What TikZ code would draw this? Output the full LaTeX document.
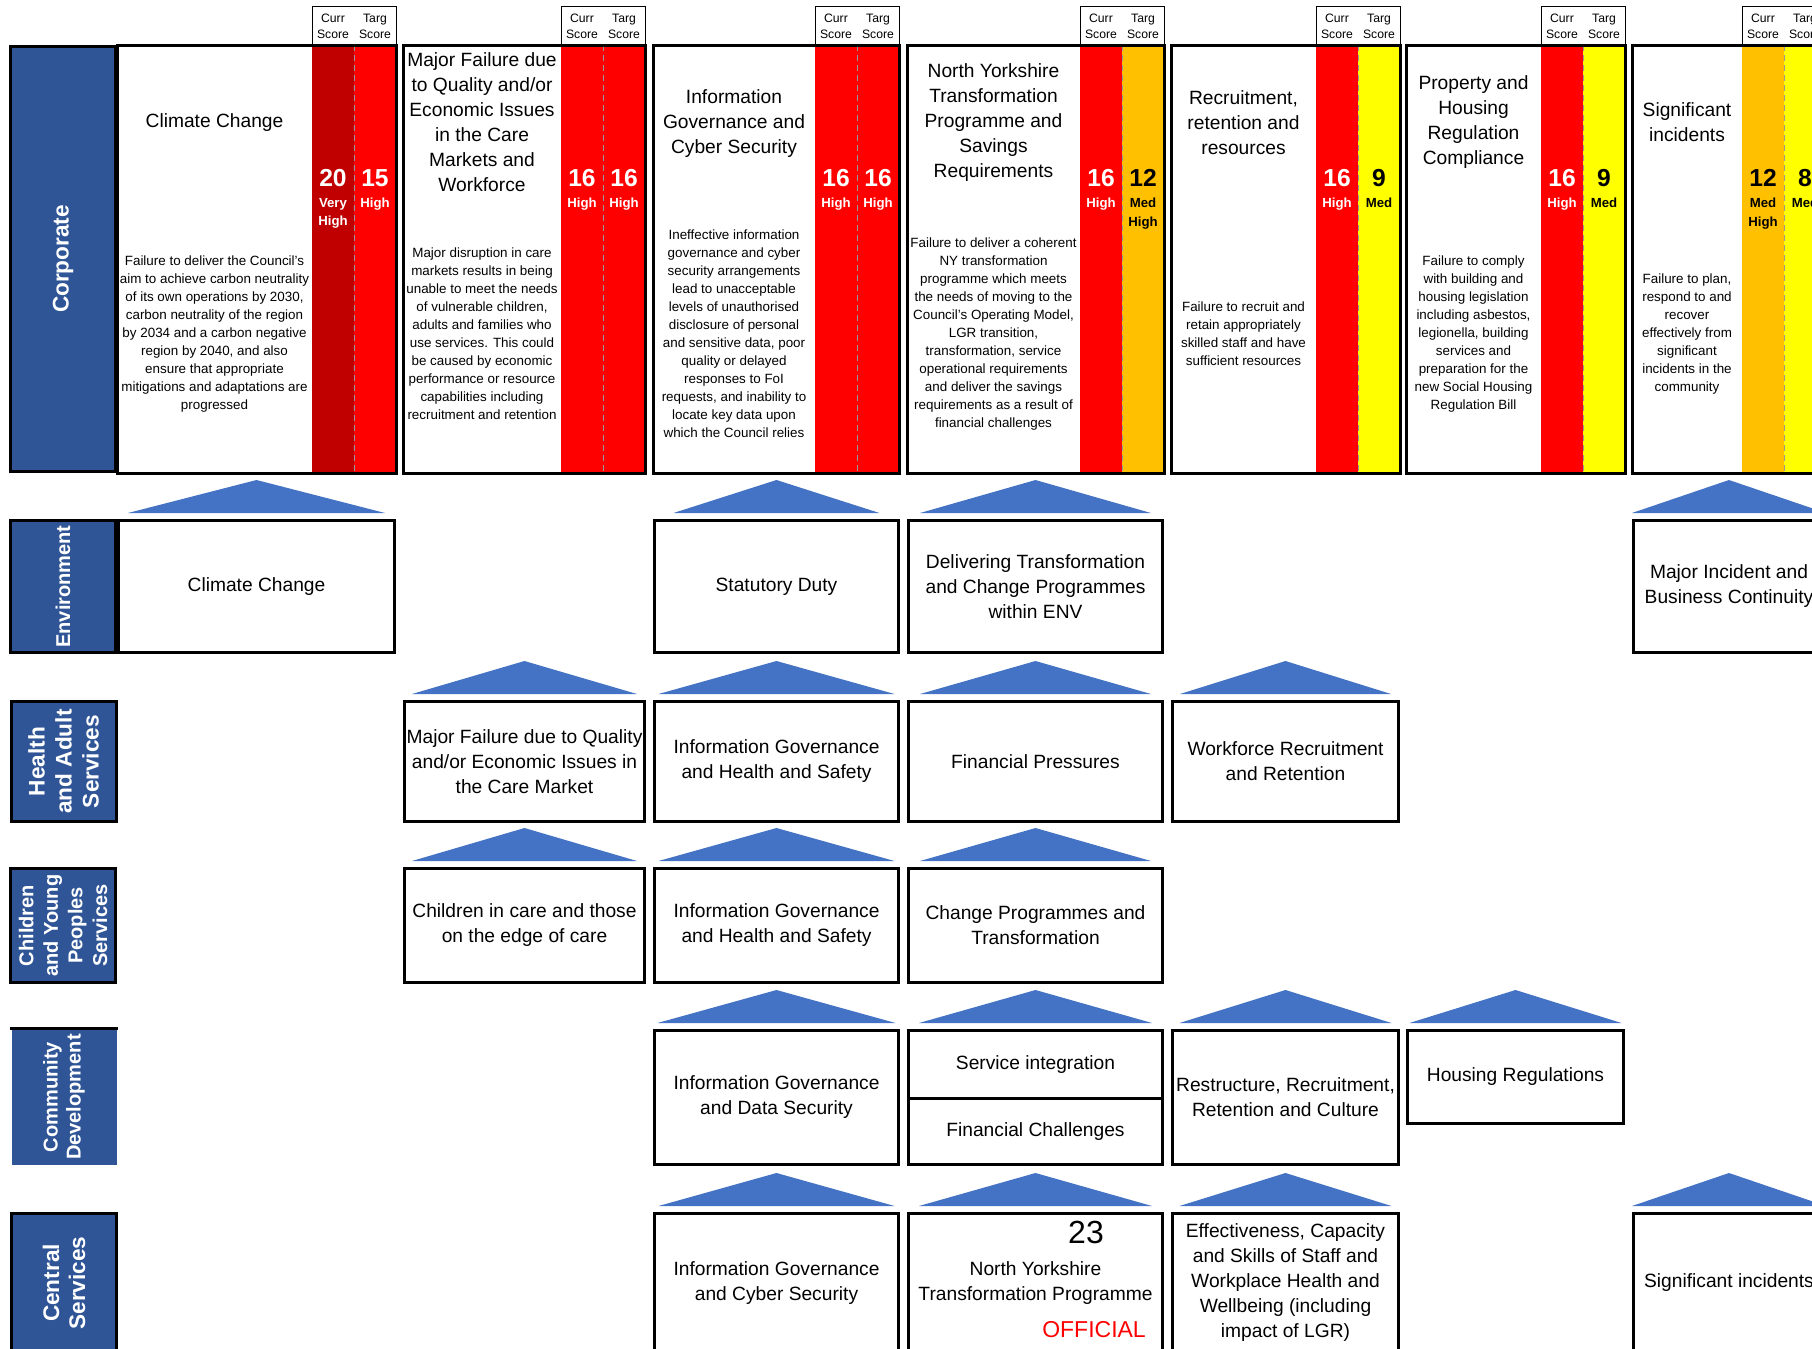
\documentclass[tikz,border=0pt]{standalone}
\usepackage{fontspec}
\setmainfont{Liberation Sans}
\definecolor{lblue}{HTML}{2F5597}
\definecolor{triblue}{HTML}{4472C4}
\definecolor{riskVH}{HTML}{C00000}
\definecolor{riskH}{HTML}{FF0000}
\definecolor{riskMH}{HTML}{FFC000}
\definecolor{riskM}{HTML}{FFFF00}
% flat arrow-like triangle sitting on top of a node
\newcommand{\uptri}[2]{\fill[tri] ([xshift=-#2*0.5pt,yshift=3pt]#1.north) -- ([yshift=19.5pt]#1.north) -- ([xshift=#2*0.5pt,yshift=3pt]#1.north) -- cycle;}

\begin{document}
\begin{tikzpicture}[
    x=0.5pt, y=-0.5pt,
    rowlbl/.style={draw=black, line width=1.5pt, fill=lblue, text=white, align=center, rotate=90, inner sep=0pt, minimum height=52.5pt},
    lowbox/.style={draw=black, line width=1.5pt, fill=white, align=center, inner sep=1pt, font=\fontsize{9.6}{12.5}\selectfont},
    ttl/.style={align=center, inner sep=0pt, font=\fontsize{9.6}{12.5}\selectfont},
    desc/.style={align=center, inner sep=0pt, font=\fontsize{6.7}{9}\selectfont},
    hdr/.style={align=center, inner sep=0pt, font=\fontsize{6.1}{7.8}\selectfont},
    num/.style={inner sep=0pt, font=\bfseries\fontsize{12.3}{14}\selectfont},
    lvl/.style={anchor=north, align=center, inner sep=0pt, font=\bfseries\fontsize{6.6}{9.2}\selectfont},
    corpline/.style={draw=black, line width=1.5pt},
    hdrline/.style={draw=black, line width=0.5pt},
    divline/.style={draw=gray!80, line width=0.4pt, densely dashed},
    tri/.style={fill=triblue},
    colA/.style={minimum width=138pt}, colB/.style={minimum width=120pt},
    colC/.style={minimum width=122pt}, colD/.style={minimum width=127pt},
    colE/.style={minimum width=113pt}, colF/.style={minimum width=108pt},
    colG/.style={minimum width=95.5pt},
    rEnv/.style={minimum height=66pt}, rHas/.style={minimum height=60pt},
    rCyp/.style={minimum height=57pt}, rComm/.style={minimum height=67pt},
    rCen/.style={minimum height=69.5pt}
]
\useasboundingbox (0,0) rectangle (1812,1349);
\clip (0,0) rectangle (1812,1349);

% Row labels
\node[rowlbl, minimum width=212.5pt, font=\bfseries\fontsize{11.3}{13.5}\selectfont] (corp) at (63,259) {Corporate};
\node[rowlbl, minimum width=66pt, font=\bfseries\fontsize{10}{12}\selectfont] (env) at (63,586.5) {Environment};
\node[rowlbl, minimum width=60pt, font=\bfseries\fontsize{11.3}{13.5}\selectfont] (has) at (63.5,761.5) {Health\\and Adult\\Services};
\node[rowlbl, minimum width=57pt, font=\bfseries\fontsize{10}{12.3}\selectfont] (cyp) at (63,925.5) {Children\\and Young\\Peoples\\Services};
\node[rowlbl, draw=none, minimum width=67.5pt, font=\bfseries\fontsize{10}{11.5}\selectfont] (comm) at (64,1097) {Community\\Development};
\draw[corpline] (comm.north east) -- (comm.south east);
\node[rowlbl, minimum width=69.5pt, font=\bfseries\fontsize{11.3}{13}\selectfont] (cen) at (64,1283) {Central\\Services};

% Corporate risk boxes: score columns, headers, outlines
\foreach \xo/\xs/\cc/\tc/\cn/\cl/\cf/\tn/\tl/\tf in {
    117/312/riskVH/riskH/20/{Very\\High}/white/15/High/white,
    403/561/riskH/riskH/16/High/white/16/High/white,
    653/815/riskH/riskH/16/High/white/16/High/white,
    907/1080/riskH/riskMH/16/High/white/12/{Med\\High}/black,
    1171/1316/riskH/riskM/16/High/white/9/Med/black,
    1406/1541/riskH/riskM/16/High/white/9/Med/black,
    1632/1742/riskMH/riskM/12/{Med\\High}/black/8/Med/black}
{
    \fill[\cc] (\xs,45) rectangle ({\xs+42},473);
    \fill[\tc] ({\xs+42},45) rectangle ({\xs+84},473);
    \draw[divline] ({\xs+42},45) -- ({\xs+42},473);
    \draw[corpline] (\xo,45) rectangle ({\xs+84},473);
    \draw[hdrline] (\xs,6) rectangle ({\xs+84},45);
    \node[hdr] (hc\xs) at ({\xs+21},26.5) {Curr\\Score};
    \node[hdr] (ht\xs) at ({\xs+63},26.5) {Targ\\Score};
    \node[num, text=\cf] (nc\xs) at ({\xs+21},178) {\cn};
    \node[lvl, text=\cf] (lc\xs) at ({\xs+21},198) {\cl};
    \node[num, text=\tf] (nt\xs) at ({\xs+63},178) {\tn};
    \node[lvl, text=\tf] (lt\xs) at ({\xs+63},198) {\tl};
}

% Corporate risk titles
\node[ttl] (t1) at (214.5,123) {Climate Change};
\node[ttl] (t2) at (482,122) {Major Failure due\\to Quality and/or\\Economic Issues\\in the Care\\Markets and\\Workforce};
\node[ttl] (t3) at (734,123.5) {Information\\Governance and\\Cyber Security};
\node[ttl] (t4) at (993.5,122.5) {North Yorkshire\\Transformation\\Programme and\\Savings\\Requirements};
\node[ttl] (t5) at (1243.5,123) {Recruitment,\\retention and\\resources};
\node[ttl] (t6) at (1473.5,122.5) {Property and\\Housing\\Regulation\\Compliance};
\node[ttl] (t7) at (1687,122) {Significant\\incidents};

% Corporate risk descriptions
\node[desc] (r1) at (214.5,334) {Failure to deliver the Council’s\\aim to achieve carbon neutrality\\of its own operations by 2030,\\carbon neutrality of the region\\by 2034 and a carbon negative\\region by 2040, and also\\ensure that appropriate\\mitigations and adaptations are\\progressed};
\node[desc] (r2) at (482,334) {Major disruption in care\\markets results in being\\unable to meet the needs\\of vulnerable children,\\adults and families who\\use services. This could\\be caused by economic\\performance or resource\\capabilities including\\recruitment and retention};
\node[desc] (r3) at (734,334) {Ineffective information\\governance and cyber\\security arrangements\\lead to unacceptable\\levels of unauthorised\\disclosure of personal\\and sensitive data, poor\\quality or delayed\\responses to FoI\\requests, and inability to\\locate key data upon\\which the Council relies};
\node[desc] (r4) at (993.5,334) {Failure to deliver a coherent\\NY transformation\\programme which meets\\the needs of moving to the\\Council’s Operating Model,\\LGR transition,\\transformation, service\\operational requirements\\and deliver the savings\\requirements as a result of\\financial challenges};
\node[desc] (r5) at (1243.5,334) {Failure to recruit and\\retain appropriately\\skilled staff and have\\sufficient resources};
\node[desc] (r6) at (1473.5,334) {Failure to comply\\with building and\\housing legislation\\including asbestos,\\legionella, building\\services and\\preparation for the\\new Social Housing\\Regulation Bill};
\node[desc] (r7) at (1687,334) {Failure to plan,\\respond to and\\recover\\effectively from\\significant\\incidents in the\\community};

% Environment
\node[lowbox, colA, rEnv] (envA) at (256.5,586.5) {Climate Change};
\node[lowbox, colC, rEnv] (envC) at (776.5,586.5) {Statutory Duty};
\node[lowbox, colD, rEnv] (envD) at (1035.5,586.5) {Delivering Transformation\\and Change Programmes\\within ENV};
\node[lowbox, colG, rEnv] (envG) at (1729,586.5) {Major Incident and\\Business Continuity};

% Health and Adult Services
\node[lowbox, colB, rHas] (hasB) at (524.5,761.5) {Major Failure due to Quality\\and/or Economic Issues in\\the Care Market};
\node[lowbox, colC, rHas] (hasC) at (776.5,761.5) {Information Governance\\and Health and Safety};
\node[lowbox, colD, rHas] (hasD) at (1035.5,761.5) {Financial Pressures};
\node[lowbox, colE, rHas] (hasE) at (1285.5,761.5) {Workforce Recruitment\\and Retention};

% Children and Young Peoples Services
\node[lowbox, colB, rCyp] (cypB) at (524.5,925.5) {Children in care and those\\on the edge of care};
\node[lowbox, colC, rCyp] (cypC) at (776.5,925.5) {Information Governance\\and Health and Safety};
\node[lowbox, colD, rCyp] (cypD) at (1035.5,925.5) {Change Programmes and\\Transformation};

% Community Development
\node[lowbox, colC, rComm] (comC) at (776.5,1097.5) {Information Governance\\and Data Security};
\node[lowbox, colD, minimum height=34pt] (comD) at (1035.5,1064.5) {Service integration};
\node[lowbox, colD, minimum height=33pt] (comD2) at (1035.5,1131.5) {Financial Challenges};
\node[lowbox, colE, rComm] (comE) at (1285.5,1097.5) {Restructure, Recruitment,\\Retention and Culture};
\node[lowbox, colF, minimum height=46.5pt] (comF) at (1515.5,1077) {Housing Regulations};

% Central Services
\node[lowbox, colC, rCen] (cenC) at (776.5,1283) {Information Governance\\and Cyber Security};
\node[lowbox, colD, rCen] (cenD) at (1035.5,1283) {North Yorkshire\\Transformation Programme};
\node[lowbox, colE, rCen] (cenE) at (1285.5,1283) {Effectiveness, Capacity\\and Skills of Staff and\\Workplace Health and\\Wellbeing (including\\impact of LGR)};
\node[lowbox, colG, rCen] (cenG) at (1729,1283) {Significant incidents};
\node[inner sep=0pt, font=\fontsize{16}{19}\selectfont] (pgno) at (1086,1232) {23};
\node[inner sep=0pt, text=red, font=\fontsize{11.5}{14}\selectfont] (mark) at (1094,1330) {OFFICIAL};

% Triangles
\uptri{envA}{128.5} \uptri{envC}{103} \uptri{envD}{115.5} \uptri{envG}{97}
\uptri{hasB}{112.5} \uptri{hasC}{118} \uptri{hasD}{115.5} \uptri{hasE}{105.5}
\uptri{cypB}{112.5} \uptri{cypC}{118} \uptri{cypD}{115.5}
\uptri{comC}{119} \uptri{comD}{116.5} \uptri{comE}{106} \uptri{comF}{106}
\uptri{cenC}{118} \uptri{cenD}{116.5} \uptri{cenE}{106} \uptri{cenG}{97}

\end{tikzpicture}
\end{document}
